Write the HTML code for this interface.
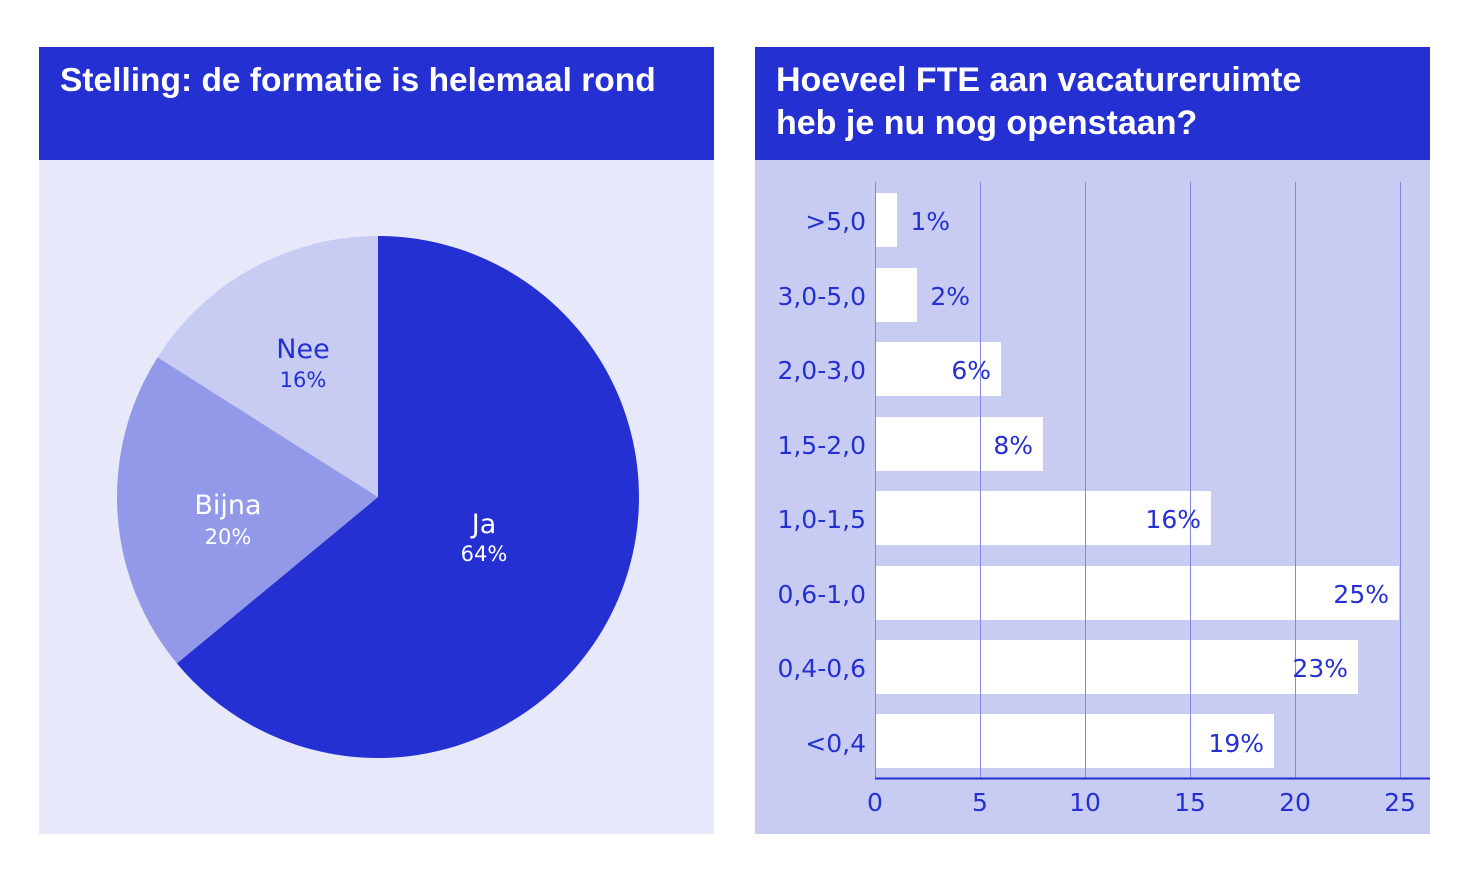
<!DOCTYPE html>
<html><head><meta charset="utf-8"><style>
body{margin:0;background:#fff;width:1468px;height:874px;overflow:hidden;font-family:"DejaVu Sans","Liberation Sans",sans-serif}
</style></head><body>
<svg width="1468" height="874" xmlns="http://www.w3.org/2000/svg" style="position:absolute;left:0;top:0">
<rect x="39" y="47" width="675" height="113" fill="#2530d2"/>
<rect x="39" y="160" width="675" height="674" fill="#e7e9fa"/>
<text x="60" y="91" font-family="Liberation Sans, sans-serif" font-weight="bold" font-size="33.5" fill="#fff">Stelling: de formatie is helemaal rond</text>
<path d="M378,497 L378,236 A261,261 0 1 1 176.9,663.4 Z" fill="#2530d2"/>
<path d="M378,497 L176.9,663.4 A261,261 0 0 1 157.6,357.2 Z" fill="#9199e8"/>
<path d="M378,497 L157.6,357.2 A261,261 0 0 1 378,236 Z" fill="#c8ccf3"/>
<g font-family="DejaVu Sans, sans-serif" text-anchor="middle">
<text x="484" y="533" font-size="27" fill="#fff">Ja</text>
<text x="484" y="561" font-size="21" fill="#fff">64%</text>
<text x="228" y="514" font-size="27" fill="#fff">Bijna</text>
<text x="228" y="544" font-size="21" fill="#fff">20%</text>
<text x="303" y="358" font-size="27" fill="#2530d2">Nee</text>
<text x="303" y="387" font-size="21" fill="#2530d2">16%</text>
</g>
<rect x="755" y="47" width="675" height="113" fill="#2530d2"/>
<rect x="755" y="160" width="675" height="674" fill="#c8ccf3"/>
<text x="776" y="91" font-family="Liberation Sans, sans-serif" font-weight="bold" font-size="34" fill="#fff">Hoeveel FTE aan vacatureruimte</text>
<text x="776" y="134" font-family="Liberation Sans, sans-serif" font-weight="bold" font-size="34" fill="#fff">heb je nu nog openstaan?</text>
<g fill="#fff">
<rect x="875" y="193" width="22" height="54"/>
<rect x="875" y="268" width="42" height="54"/>
<rect x="875" y="342" width="126" height="54"/>
<rect x="875" y="417" width="168" height="54"/>
<rect x="875" y="491" width="336" height="54"/>
<rect x="875" y="566" width="524" height="54"/>
<rect x="875" y="640" width="483" height="54"/>
<rect x="875" y="714" width="399" height="54"/>
</g>
<g stroke="#8088e0" stroke-width="1">
<line x1="875.5" y1="182" x2="875.5" y2="778"/>
<line x1="980.5" y1="182" x2="980.5" y2="778"/>
<line x1="1085.5" y1="182" x2="1085.5" y2="778"/>
<line x1="1190.5" y1="182" x2="1190.5" y2="778"/>
<line x1="1295.5" y1="182" x2="1295.5" y2="778"/>
<line x1="1400.5" y1="182" x2="1400.5" y2="778"/>
</g>
<line x1="875" y1="778.5" x2="1430" y2="778.5" stroke="#2530d2" stroke-width="2"/>
<g font-family="DejaVu Sans, sans-serif" font-size="25" fill="#2530d2" text-anchor="end">
<text x="866" y="230">&gt;5,0</text>
<text x="866" y="305">3,0-5,0</text>
<text x="866" y="379">2,0-3,0</text>
<text x="866" y="454">1,5-2,0</text>
<text x="866" y="528">1,0-1,5</text>
<text x="866" y="603">0,6-1,0</text>
<text x="866" y="677">0,4-0,6</text>
<text x="866" y="752">&lt;0,4</text>
<text x="950" y="230">1%</text>
<text x="970" y="305">2%</text>
<text x="991" y="379">6%</text>
<text x="1033" y="454">8%</text>
<text x="1201" y="528">16%</text>
<text x="1389" y="603">25%</text>
<text x="1348" y="677">23%</text>
<text x="1264" y="752">19%</text>
</g>
<g font-family="DejaVu Sans, sans-serif" font-size="25" fill="#2530d2" text-anchor="middle">
<text x="875" y="811">0</text><text x="980" y="811">5</text><text x="1085" y="811">10</text>
<text x="1190" y="811">15</text><text x="1295" y="811">20</text><text x="1400" y="811">25</text>
</g>
</svg>
</body></html>
